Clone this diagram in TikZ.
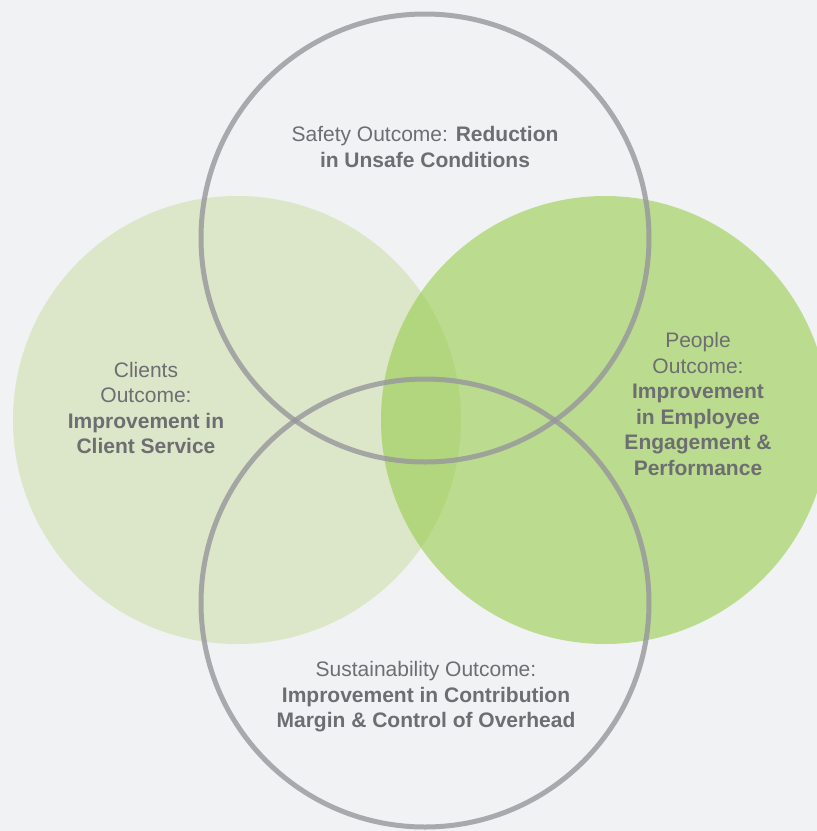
\documentclass[tikz,border=0pt]{standalone}
\usepackage{fontspec}
\setmainfont{Liberation Sans}
\definecolor{pagebg}{HTML}{F1F2F4}
\definecolor{paleleaf}{HTML}{DCE6C8}
\definecolor{leaf}{RGB}{151,204,77}
\definecolor{ringgray}{RGB}{150,150,156}
\definecolor{txtgray}{HTML}{6D6E71}
\begin{document}
\begin{tikzpicture}[x=1pt,y=-1pt,
    ring/.style={draw=ringgray,line width=5pt,draw opacity=0.8},
    lbl/.style={text=txtgray,align=center,font=\fontsize{21}{25.5}\selectfont}]
  \useasboundingbox[fill=pagebg] (0,0) rectangle (817,831);
  \begin{scope}
    \clip (0,0) rectangle (817,831);
    % filled sets
    \fill[paleleaf] (237,420) circle[radius=224pt];
    \fill[leaf,fill opacity=0.6] (605,420) circle[radius=224pt];
    % outlined sets
    \draw[ring] (425,238) circle[radius=224pt];
    \draw[ring] (425,603) circle[radius=224pt];
  \end{scope}
  % labels
  \node[lbl] (safety) at (425,147)
    {Safety Outcome: \textbf{Reduction}\\ \textbf{in Unsafe Conditions}};
  \node[lbl] (clients) at (146,408)
    {Clients\\ Outcome:\\ \textbf{Improvement in}\\ \textbf{Client Service}};
  \node[lbl] (people) at (698,404)
    {People\\ Outcome:\\ \textbf{Improvement}\\ \textbf{in Employee}\\
     \textbf{Engagement \&}\\ \textbf{Performance}};
  \node[lbl] (sustain) at (426,697)
    {Sustainability Outcome:\\ \textbf{Improvement in Contribution}\\
     \textbf{Margin \& Control of Overhead}};
\end{tikzpicture}
\end{document}
